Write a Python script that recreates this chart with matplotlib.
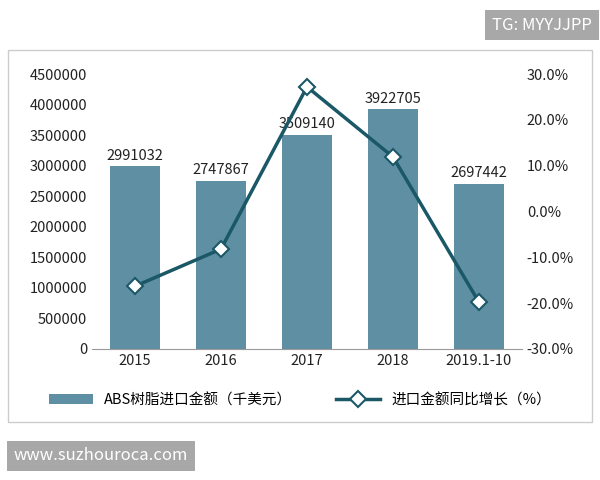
import matplotlib.pyplot as plt
from matplotlib.patches import Rectangle
from matplotlib.ticker import FuncFormatter

plt.rcParams['font.family'] = ['Noto Sans CJK SC', 'DejaVu Sans']

years = ['2015', '2016', '2017', '2018', '2019.1-10']
amount = [2991032, 2747867, 3509140, 3922705, 2697442]
growth = [-16.3, -8.2, 27.2, 11.9, -19.8]

bar_color = '#5f8fa3'
line_color = '#1b5867'

fig = plt.figure(figsize=(6, 4.8), dpi=100)
fig.patches.append(Rectangle((8/600, 1-422/480), 584/600, 372/480, transform=fig.transFigure,
                             fill=False, edgecolor='#cccccc', linewidth=1))
ax = fig.add_axes([92/600, 1-349/480, 430/600, 275/480])
x = range(len(years))
ax.bar(x, amount, width=0.58, color=bar_color, label='ABS树脂进口金额（千美元）')
for i, v in enumerate(amount):
    ax.text(i, v + 60000, str(v), ha='center', va='bottom', fontsize=10.5, color='#222222')
ax.set_ylim(0, 4500000)
ax.set_yticks(range(0, 4500001, 500000))
ax.yaxis.set_major_formatter(FuncFormatter(lambda v, p: f'{int(v)}'))
ax.set_xticks(list(x))
ax.set_xticklabels(years)
ax.set_xlim(-0.5, 4.5)

ax2 = ax.twinx()
ax2.plot(list(x), growth, color=line_color, linewidth=2.5, marker='D', markersize=8,
         markerfacecolor='white', markeredgecolor=line_color, markeredgewidth=1.5,
         label='进口金额同比增长（%）')
ax2.set_ylim(-30, 30)
ax2.set_yticks(range(-30, 31, 10))
ax2.yaxis.set_major_formatter(FuncFormatter(lambda v, p: f'{v:.1f}%'))

for a in (ax, ax2):
    for s in a.spines.values():
        s.set_visible(False)
    a.tick_params(length=0, labelsize=10.5, colors='#222222')
ax.spines['bottom'].set_visible(True)
ax.spines['bottom'].set_color('#999999')

h1, l1 = ax.get_legend_handles_labels()
h2, l2 = ax2.get_legend_handles_labels()
fig.legend(h1 + h2, l1 + l2, loc='center', bbox_to_anchor=(0.5, 1-400/480), ncol=2,
           frameon=False, fontsize=10.5, columnspacing=3, handlelength=3)

fig.text(1-8/600, 1-25/480, 'TG: MYYJJPP', ha='right', va='center', color='white', fontsize=12,
         bbox=dict(boxstyle='square,pad=0.4', facecolor='#a8a8a8', edgecolor='none'))
fig.text(14/600, 1-456/480, 'www.suzhouroca.com', ha='left', va='center', color='white', fontsize=12,
         bbox=dict(boxstyle='square,pad=0.4', facecolor='#a8a8a8', edgecolor='none'))

fig.savefig('out.png', dpi=100)
